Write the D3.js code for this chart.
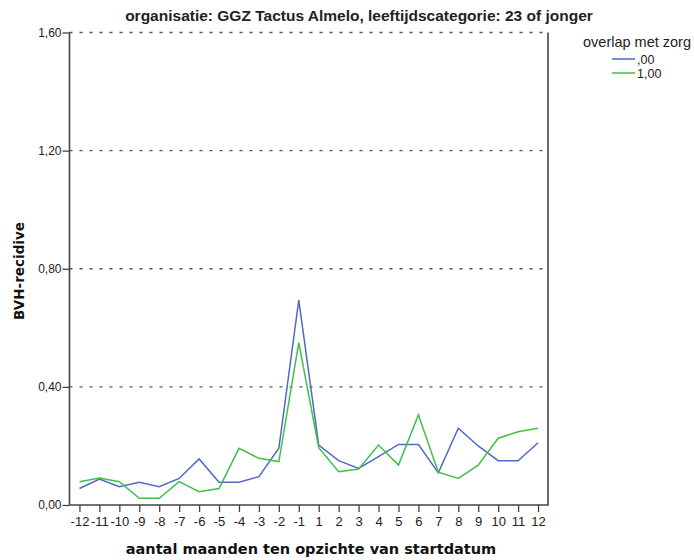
<!DOCTYPE html>
<html><head><meta charset="utf-8">
<script src="https://cdn.jsdelivr.net/npm/d3@7"></script>
<style>body{margin:0;background:#fff}svg{display:block}</style>
</head><body>
<script>
const months = [-12,-11,-10,-9,-8,-7,-6,-5,-4,-3,-2,-1,1,2,3,4,5,6,7,8,9,10,11,12];
const seriesNames = [",00", "1,00"];
const valuesBlue = [0.056,0.088,0.062,0.077,0.062,0.090,0.156,0.077,0.077,0.096,0.192,0.694,
                    0.203,0.150,0.124,0.164,0.205,0.205,0.109,0.260,0.200,0.150,0.150,0.211];
const valuesGreen = [0.079,0.091,0.079,0.023,0.023,0.079,0.045,0.056,0.192,0.158,0.147,0.550,
                     0.194,0.113,0.122,0.203,0.135,0.305,0.111,0.090,0.135,0.226,0.248,0.260];
const yTicks = [0, 0.4, 0.8, 1.2, 1.6];
const colors = ["#5069c4", "#3fc04b"];

const W = 694, H = 560;
const L = 69.5, R = 548, T = 32.5, B = 505;
const svg = d3.select("body").append("svg").attr("width", W).attr("height", H);

const x = d3.scalePoint().domain(months).range([L, R]).padding(0.5);
const y = d3.scaleLinear().domain([0, 1.6]).range([B, T]);
const fmt = d => d3.format(".2f")(d).replace(".", ",");

// gridlines
svg.append("g").selectAll("line").data(yTicks.filter(d => d > 0)).join("line")
  .attr("x1", L).attr("x2", R).attr("y1", d => y(d)).attr("y2", d => y(d))
  .attr("stroke", "#555").attr("stroke-width", 1.3).attr("stroke-dasharray", "3,7");

// frame: left, bottom, right
svg.append("path").attr("d", `M${L},${T}V${B}H${R}V${T}`)
  .attr("fill", "none").attr("stroke", "#444").attr("stroke-width", 1.6);

// y axis
const yAxis = d3.axisLeft(y).tickValues(yTicks).tickFormat(fmt).tickSize(7).tickPadding(1);
const gy = svg.append("g").attr("transform", `translate(${L},0)`).call(yAxis);
gy.select(".domain").remove();
gy.selectAll("line").attr("stroke", "#444").attr("stroke-width", 1.3);
gy.selectAll("text").attr("font-family", "Liberation Sans, Arial, sans-serif").attr("font-size", 12).attr("fill", "#222");

// x axis
const xAxis = d3.axisBottom(x).tickSize(7).tickPadding(5);
const gx = svg.append("g").attr("transform", `translate(0,${B})`).call(xAxis);
gx.select(".domain").remove();
gx.selectAll("line").attr("stroke", "#444").attr("stroke-width", 1.3);
gx.selectAll("text").attr("font-family", "Liberation Sans, Arial, sans-serif").attr("font-size", 13).attr("fill", "#222");

// lines
const line = d3.line().x((d, i) => x(months[i])).y(d => y(d));
[valuesBlue, valuesGreen].forEach((vals, k) => {
  svg.append("path").datum(vals).attr("d", line)
    .attr("fill", "none").attr("stroke", colors[k]).attr("stroke-width", 1.5)
    .attr("stroke-linejoin", "miter");
});

// title
svg.append("text").attr("x", 359).attr("y", 21).attr("text-anchor", "middle")
  .attr("font-family", "Liberation Sans, Arial, sans-serif").attr("font-weight", "bold")
  .attr("font-size", 15.5).attr("fill", "#222")
  .text("organisatie: GGZ Tactus Almelo, leeftijdscategorie: 23 of jonger");

// axis titles
svg.append("text").attr("x", 311).attr("y", 554).attr("text-anchor", "middle")
  .attr("font-family", "DejaVu Sans, Verdana, sans-serif").attr("font-weight", "bold")
  .attr("font-size", 14.5).attr("fill", "#111")
  .text("aantal maanden ten opzichte van startdatum");
svg.append("text").attr("transform", "translate(24,271) rotate(-90)").attr("text-anchor", "middle")
  .attr("font-family", "DejaVu Sans, Verdana, sans-serif").attr("font-weight", "bold")
  .attr("font-size", 13.5).attr("fill", "#111")
  .text("BVH-recidive");

// legend
const lg = svg.append("g").attr("font-family", "Liberation Sans, Arial, sans-serif").attr("fill", "#222");
lg.append("text").attr("x", 583).attr("y", 47).attr("font-size", 14.5).text("overlap met zorg");
seriesNames.forEach((n, i) => {
  const yy = 59 + i * 14;
  lg.append("line").attr("x1", 612).attr("x2", 635).attr("y1", yy).attr("y2", yy)
    .attr("stroke", colors[i]).attr("stroke-width", 1.5);
  lg.append("text").attr("x", 637).attr("y", yy + 4.5).attr("font-size", 12.5).text(n);
});
</script>
</body></html>
